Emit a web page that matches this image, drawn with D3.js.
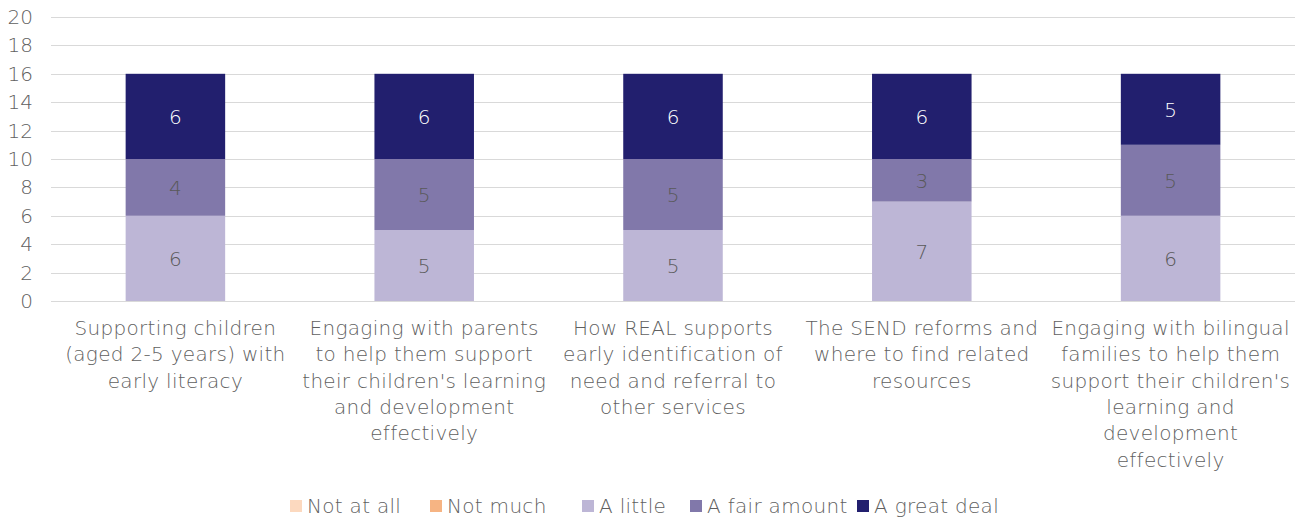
<!DOCTYPE html>
<html>
<head>
<meta charset="utf-8">
<script src="https://cdn.jsdelivr.net/npm/d3@7"></script>
<style>
  html, body { margin: 0; padding: 0; background: #fff; }
  svg { display: block; font-family: "DejaVu Sans", sans-serif; font-weight: 200; }
</style>
</head>
<body>
<svg id="chart" width="1305" height="519"></svg>
<script>
// Topics (each label pre-split into its wrapped lines)
const categories = [
  ["Supporting children", "(aged 2-5 years) with", "early literacy"],
  ["Engaging with parents", "to help them support", "their children's learning", "and development", "effectively"],
  ["How REAL supports", "early identification of", "need and referral to", "other services"],
  ["The SEND reforms and", "where to find related", "resources"],
  ["Engaging with bilingual", "families to help them", "support their children's", "learning and", "development", "effectively"]
];
const seriesNames = ["Not at all", "Not much", "A little", "A fair amount", "A great deal"];
const seriesColors = ["#FCD9BF", "#F6B483", "#BDB6D6", "#8178AA", "#221F6E"];
const labelColors = ["#595959", "#595959", "#595959", "#595959", "#FFFFFF"];
const notAtAll    = [0, 0, 0, 0, 0];
const notMuch     = [0, 0, 0, 0, 0];
const aLittle     = [6, 5, 5, 7, 6];
const aFairAmount = [4, 5, 5, 3, 5];
const aGreatDeal  = [6, 6, 6, 6, 5];
const yTicks = [0, 2, 4, 6, 8, 10, 12, 14, 16, 18, 20];

const seriesValues = [notAtAll, notMuch, aLittle, aFairAmount, aGreatDeal];
const rows = categories.map((c, i) => {
  const r = { idx: i };
  seriesNames.forEach((s, k) => r[s] = seriesValues[k][i]);
  return r;
});

const svg = d3.select("#chart");
const margin = { left: 51, right: 10, top: 17, bottom: 218 };
const W = 1305, H = 519;
const textColor = "#5f5f5f";

const x = d3.scaleBand()
  .domain(d3.range(categories.length))
  .range([margin.left, W - margin.right])
  .paddingInner(0.6)
  .paddingOuter(0.3);

const y = d3.scaleLinear().domain([0, 20]).range([H - margin.bottom, margin.top]);

// Gridlines
svg.append("g")
  .selectAll("line")
  .data(yTicks)
  .join("line")
  .attr("x1", margin.left)
  .attr("x2", W - margin.right)
  .attr("y1", d => Math.round(y(d)) + 0.5)
  .attr("y2", d => Math.round(y(d)) + 0.5)
  .attr("stroke", "#D9D9D9")
  .attr("stroke-width", 1);

// Y axis labels
const yAxis = d3.axisLeft(y).tickValues(yTicks).tickSize(0).tickPadding(0);
svg.append("g")
  .attr("transform", `translate(33,0)`)
  .call(yAxis)
  .call(g => g.select(".domain").remove())
  .call(g => g.selectAll("text")
    .attr("fill", textColor)
    .attr("font-size", 20)
    .attr("font-family", "'DejaVu Sans', sans-serif")
    .attr("font-weight", 200));

// Stacked bars
const stack = d3.stack().keys(seriesNames);
const layers = stack(rows);

const layerG = svg.append("g")
  .selectAll("g")
  .data(layers)
  .join("g")
  .attr("fill", (d, i) => seriesColors[i]);

layerG.selectAll("rect")
  .data(d => d)
  .join("rect")
  .attr("x", d => x(d.data.idx))
  .attr("width", x.bandwidth())
  .attr("y", d => y(d[1]))
  .attr("height", d => y(d[0]) - y(d[1]));

// Value labels
layers.forEach((layer, k) => {
  svg.append("g")
    .selectAll("text")
    .data(layer.filter(d => d[1] - d[0] > 0))
    .join("text")
    .attr("x", d => x(d.data.idx) + x.bandwidth() / 2)
    .attr("y", d => (y(d[0]) + y(d[1])) / 2)
    .attr("dy", "0.36em")
    .attr("text-anchor", "middle")
    .attr("font-size", 20)
    .attr("fill", labelColors[k])
    .text(d => d[1] - d[0]);
});

// Category labels
const catG = svg.append("g");
categories.forEach((lines, i) => {
  const t = catG.append("text")
    .attr("text-anchor", "middle")
    .attr("font-size", 20)
    .attr("letter-spacing", 0.3)
    .attr("fill", textColor)
    .attr("y", 335);
  lines.forEach((ln, j) => {
    t.append("tspan")
      .attr("x", x(i) + x.bandwidth() / 2)
      .attr("dy", j === 0 ? 0 : 26.3)
      .text(ln);
  });
});

// Legend
const legendX = [290, 430, 582, 690, 857];
const legend = svg.append("g");
seriesNames.forEach((s, i) => {
  legend.append("rect")
    .attr("x", legendX[i])
    .attr("y", 500)
    .attr("width", 12)
    .attr("height", 12)
    .attr("fill", seriesColors[i]);
  legend.append("text")
    .attr("x", legendX[i] + 17)
    .attr("y", 506)
    .attr("dy", "0.36em")
    .attr("font-size", 20)
    .attr("letter-spacing", 0.3)
    .attr("fill", textColor)
    .text(s);
});
</script>
</body>
</html>
